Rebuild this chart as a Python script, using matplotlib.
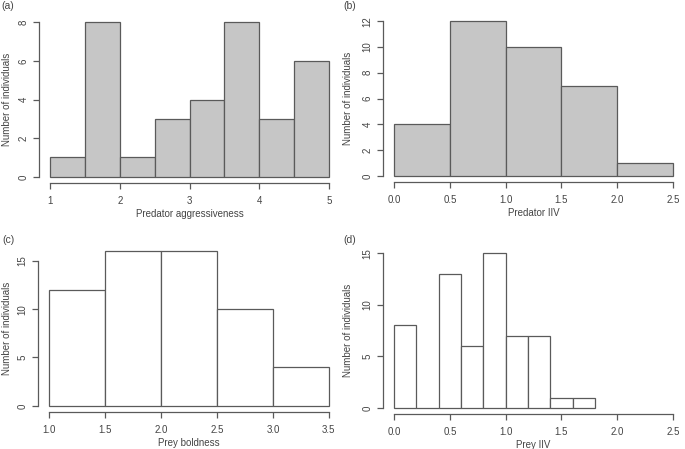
import matplotlib
matplotlib.use("Agg")
import matplotlib.pyplot as plt
import numpy as np

plt.rcParams['font.family'] = ['Liberation Sans', 'DejaVu Sans']

# bin edges and counts
agg_edges = [1.0, 1.5, 2.0, 2.5, 3.0, 3.5, 4.0, 4.5, 5.0]
agg_counts = [1, 8, 1, 3, 4, 8, 3, 6]

pred_iiv_edges = [0.0, 0.5, 1.0, 1.5, 2.0, 2.5]
pred_iiv_counts = [4, 12, 10, 7, 1]

bold_edges = [1.0, 1.5, 2.0, 2.5, 3.0, 3.5]
bold_counts = [12, 16, 16, 10, 4]

prey_iiv_edges = [0.0, 0.2, 0.4, 0.6, 0.8, 1.0, 1.2, 1.4, 1.6, 1.8]
prey_iiv_counts = [8, 0, 13, 6, 15, 7, 7, 1, 1]

W, H = 685, 449
panels = [
    dict(tag='(a)', edges=agg_edges, counts=agg_counts, xlabel='Predator aggressiveness',
         xticks=[1, 2, 3, 4, 5], xfmt='{:.0f}', xr=(1, 5), yticks=[0, 2, 4, 6, 8],
         fill='#c6c6c6', rect=[39, 266, 301, 167], ylab_x=-0.090, tag_xy=(1, 6)),
    dict(tag='(b)', edges=pred_iiv_edges, counts=pred_iiv_counts, xlabel='Predator IIV',
         xticks=[0, 0.5, 1.0, 1.5, 2.0, 2.5], xfmt='{:.1f}', xr=(0, 2.5),
         yticks=[0, 2, 4, 6, 8, 10, 12], fill='#c6c6c6',
         rect=[383, 267, 301, 167], ylab_x=-0.10, tag_xy=(343, 6)),
    dict(tag='(c)', edges=bold_edges, counts=bold_counts, xlabel='Prey boldness',
         xticks=[1.0, 1.5, 2.0, 2.5, 3.0, 3.5], xfmt='{:.1f}', xr=(1, 3.5),
         yticks=[0, 5, 10, 15], fill='white',
         rect=[38, 37, 302, 167], ylab_x=-0.086, tag_xy=(2, 240)),
    dict(tag='(d)', edges=prey_iiv_edges, counts=prey_iiv_counts, xlabel='Prey IIV',
         xticks=[0, 0.5, 1.0, 1.5, 2.0, 2.5], xfmt='{:.1f}', xr=(0, 2.5),
         yticks=[0, 5, 10, 15], fill='white',
         rect=[383, 35, 301, 167], ylab_x=-0.10, tag_xy=(343, 240)),
]

line_col = '#5a5a5a'
text_col = '#444444'

fig = plt.figure(figsize=(6.85, 4.49), dpi=100)

for p in panels:
    l, b, w, h = p['rect']
    ax = fig.add_axes([l / W, b / H, w / W, h / H])
    edges = np.array(p['edges'])
    counts = np.array(p['counts'])
    ax.bar(edges[:-1], counts, width=np.diff(edges), align='edge',
           color=p['fill'], edgecolor=line_col, linewidth=0.9)
    x0, x1 = p['xr']
    dx = (x1 - x0) * 0.04
    ax.set_xlim(x0 - dx, x1 + dx)
    ymax = max(counts.max(), p['yticks'][-1])
    ax.set_ylim(-ymax * 0.04, ymax * 1.04)

    for s in ['top', 'right']:
        ax.spines[s].set_visible(False)
    for s in ['left', 'bottom']:
        ax.spines[s].set_color(line_col)
        ax.spines[s].set_linewidth(0.9)
    ax.spines['bottom'].set_bounds(p['xticks'][0], p['xticks'][-1])
    ax.spines['left'].set_bounds(p['yticks'][0], p['yticks'][-1])

    ax.set_xticks(p['xticks'])
    ax.set_xticklabels([p['xfmt'].format(t) for t in p['xticks']])
    ax.set_yticks(p['yticks'])
    ax.set_yticklabels([str(t) for t in p['yticks']], rotation=90, va='center')
    ax.tick_params(length=4.5, width=0.9, color=line_col, labelcolor=text_col,
                   labelsize=7)
    ax.tick_params(axis='x', pad=5)
    ax.tick_params(axis='y', pad=3)
    ax.set_xlabel(p['xlabel'], fontsize=7, color=text_col, labelpad=2)
    ax.set_ylabel('Number of individuals', fontsize=7, color=text_col)
    ax.yaxis.set_label_coords(p['ylab_x'], 0.5)
    tx, ty = p['tag_xy']
    fig.text(tx / W, 1 - ty / H, p['tag'], fontsize=7.5, color=text_col,
             ha='left', va='center')

fig.savefig('out.png', dpi=100)
